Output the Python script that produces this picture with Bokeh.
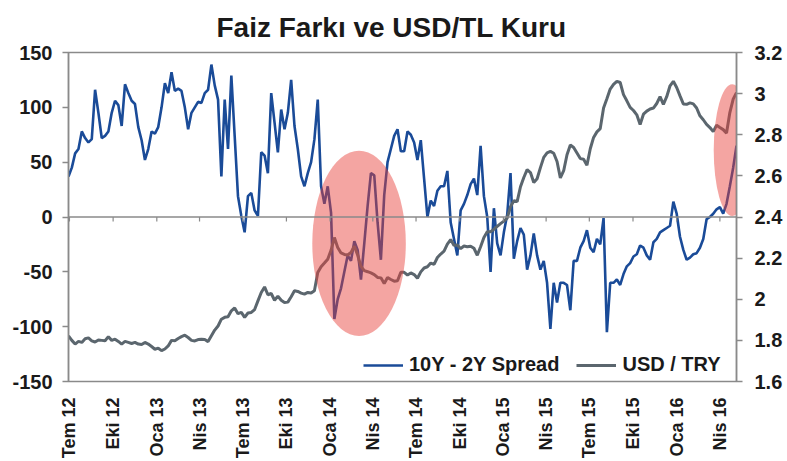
import math
import pandas as pd
from bokeh.plotting import figure
from bokeh.models import (Range1d, LinearAxis, FixedTicker, CustomJSTickFormatter,
                          Span, Legend, LegendItem)
from bokeh.embed import file_html
from bokeh.resources import INLINE

# ---------------- data (weekly) ----------------
start_date = "2012-06-29"

spread = [
    37, 45, 58, 62, 78, 72, 68, 71, 116, 95,
    72, 74, 78, 95, 106, 102, 83, 121, 113, 106,
    103, 82, 70, 52, 62, 78, 76, 82, 100, 122,
    113, 132, 115, 117, 115, 100, 80, 95, 100, 105,
    104,
    113, 116, 139, 120, 107, 37, 107, 62, 129, 74,
    19, 1, -14, 19, 22, 6, 1, 59, 56, 40,
    113, 86, 59, 98, 80, 95, 125, 83, 62, 37,
    28, 40, 50, 71, 107, 28, 12, 28, 4, -93,
    -75, -65, -50, -35, -40, -22, -30, -57, -24, 10,
    40, 38, -5, -39, 20, 50, 62, 74, 80, 60,
    60, 78, 75, 68, 52, 70, 35, 0, 15, 10,
    24, 28, 28, 42, -5, -20, -35, 6, 12, 20,
    30, 35, 20, 65, 19, 0, -50, 8, -24, -35,
    -14, 2, 40, -38, -22, -10, -16, -48, -35, -15,
    -35, -48, -40, -60, -102, -60, -78, -60, -60, -62,
    -85, -40, -40, -28, -22, -12, -28, -32, -20, -25,
    -1, -105, -60, -60, -57, -62, -52, -45, -42, -36,
    -34, -26, -28, -35, -39, -23, -20, -14, -12, -10,
    -8, 14, 3, -18, -30, -39, -37, -34, -33, -28,
    -20, -2, 0, 3, 7, 9, 3, 12, 28, 45,
    65,
]

usd_try = [
    1.822, 1.800, 1.782, 1.795, 1.790, 1.808, 1.812, 1.798, 1.792, 1.802,
    1.800, 1.798, 1.818, 1.800, 1.806, 1.795, 1.782, 1.795, 1.790, 1.785,
    1.790, 1.782, 1.780, 1.790, 1.782, 1.770, 1.757, 1.762, 1.750, 1.758,
    1.773, 1.800, 1.798, 1.809, 1.818, 1.825, 1.814, 1.800, 1.797, 1.804,
    1.805,
    1.804, 1.794, 1.822, 1.850, 1.870, 1.903, 1.912, 1.915, 1.944, 1.958,
    1.930, 1.936, 1.912, 1.933, 1.936, 1.950, 1.992, 2.033, 2.060, 2.022,
    2.028, 1.995, 2.015, 1.995, 1.984, 1.986, 2.012, 2.041, 2.038, 2.030,
    2.025, 2.033, 2.030, 2.041, 2.130, 2.158, 2.176, 2.195, 2.238, 2.300,
    2.252, 2.225, 2.218, 2.215, 2.228, 2.258, 2.215, 2.160, 2.139, 2.134,
    2.128, 2.120, 2.106, 2.104, 2.076, 2.106, 2.096, 2.088, 2.090, 2.131,
    2.131, 2.118, 2.128, 2.120, 2.102, 2.133, 2.152, 2.158, 2.176, 2.170,
    2.203, 2.220, 2.234, 2.268, 2.290, 2.262, 2.264, 2.246, 2.259, 2.255,
    2.258, 2.248, 2.214, 2.255, 2.300, 2.328, 2.328, 2.340, 2.354, 2.368,
    2.380, 2.395, 2.450, 2.479, 2.475, 2.547, 2.592, 2.630, 2.616, 2.568,
    2.586, 2.640, 2.690, 2.712, 2.719, 2.710, 2.670, 2.590, 2.625, 2.703,
    2.750, 2.738, 2.711, 2.684, 2.681, 2.652, 2.732, 2.787, 2.814, 2.830,
    2.930, 2.975, 3.022, 3.045, 3.060, 3.054, 2.995, 2.965, 2.933, 2.918,
    2.897, 2.850, 2.900, 2.915, 2.925, 2.930, 2.952, 2.985, 2.948, 2.985,
    3.038, 3.060, 3.030, 2.989, 2.950, 2.948, 2.955, 2.950, 2.930, 2.892,
    2.873, 2.850, 2.835, 2.815, 2.846, 2.835, 2.825, 2.808, 2.908, 2.973,
    3.005,
]

tick_dates = ["2012-07-01", "2012-10-01", "2013-01-01", "2013-04-01",
              "2013-07-01", "2013-10-01", "2014-01-01", "2014-04-01",
              "2014-07-01", "2014-10-01", "2015-01-01", "2015-04-01",
              "2015-07-01", "2015-10-01", "2016-01-01", "2016-04-01"]
tick_labels = ["Tem 12", "Eki 12", "Oca 13", "Nis 13", "Tem 13", "Eki 13",
               "Oca 14", "Nis 14", "Tem 14", "Eki 14", "Oca 15", "Nis 15",
               "Tem 15", "Eki 15", "Oca 16", "Nis 16"]
left_ticks = [-150, -100, -50, 0, 50, 100, 150]
right_ticks = [1.6, 1.8, 2.0, 2.2, 2.4, 2.6, 2.8, 3.0, 3.2]

# highlighted areas (ellipses)
highlight_centers = ["2014-03-03", "2016-04-27"]
highlight_values = [-24, 61]
highlight_width_days = [197, 78]
highlight_heights = [169, 120]

series_names = ["10Y - 2Y Spread", "USD / TRY"]
title_text = "Faiz Farkı ve USD/TL Kuru"

# ---------------- build ----------------
dates = pd.date_range(start_date, periods=len(spread), freq="7D")
tick_ms = [int(pd.Timestamp(d).value // 10**6) for d in tick_dates]
tick_dt = [pd.Timestamp(d) for d in tick_dates]

FONT = "Liberation Sans"
AXIS_GRAY = "#8a8a8a"
TEXT = "#1a1a1a"

p = figure(width=785, height=461, x_axis_type="datetime",
           x_range=Range1d(dates[0], dates[-1]), y_range=Range1d(-150, 150),
           output_backend="svg", toolbar_location=None,
           min_border_left=68, min_border_right=47, min_border_top=52,
           min_border_bottom=80)
p.extra_y_ranges = {"fx": Range1d(1.6, 3.2)}

p.xgrid.visible = False
p.ygrid.visible = False
p.outline_line_color = AXIS_GRAY
p.outline_line_width = 1.5
p.background_fill_color = "white"
p.border_fill_color = "white"

# title
p.title.text = title_text
p.title.text_font = FONT
p.title.text_font_style = "bold"
p.title.text_font_size = "28px"
p.title.text_color = TEXT
p.title.align = "left"
p.title.offset = 148
p.title.standoff = 19

# lines
r_spread = p.line(dates, spread, line_color="#1a4b98", line_width=2.6)
r_usd = p.line(dates, usd_try, y_range_name="fx", line_color="#5b666e", line_width=3)

# highlight ellipses
p.ellipse(x=[pd.Timestamp(d) for d in highlight_centers], y=highlight_values,
          width=[d * 86400000 for d in highlight_width_days], height=highlight_heights,
          fill_color="#e8403a", fill_alpha=0.47, line_color=None)

# zero line (category axis) and its ticks
p.add_layout(Span(location=0, dimension="width", line_color=AXIS_GRAY, line_width=1.5))
p.segment(x0=tick_dt, y0=[0] * len(tick_dt), x1=tick_dt, y1=[-4] * len(tick_dt),
          line_color=AXIS_GRAY, line_width=1.2)

# left axis
la = p.left[0]
la.ticker = FixedTicker(ticks=left_ticks)
la.formatter = CustomJSTickFormatter(code="return tick.toFixed(0);")

# right axis
ra = LinearAxis(y_range_name="fx", ticker=FixedTicker(ticks=right_ticks),
                formatter=CustomJSTickFormatter(code="return (Math.round(tick*10)/10).toString();"))
p.add_layout(ra, "right")

for ax, so in ((la, 10), (ra, 12)):
    ax.axis_line_color = AXIS_GRAY
    ax.axis_line_width = 1.5
    ax.major_tick_line_color = AXIS_GRAY
    ax.major_tick_line_width = 1.5
    ax.major_tick_out = 6
    ax.major_tick_in = 0
    ax.minor_tick_line_color = None
    ax.major_label_text_font = FONT
    ax.major_label_text_font_style = "bold"
    ax.major_label_text_font_size = "20px"
    ax.major_label_text_color = TEXT
    ax.major_label_standoff = so

# bottom axis
xa = p.below[0]
xa.ticker = FixedTicker(ticks=tick_ms)
xa.formatter = CustomJSTickFormatter(args=dict(qdates=tick_ms, qlabels=tick_labels), code="""
let best = -1, bd = Infinity;
for (let i = 0; i < qdates.length; i++) {
  const d = Math.abs(qdates[i] - tick);
  if (d < bd) { bd = d; best = i; }
}
return bd < 86400000 * 2 ? qlabels[best] : "";
""")
xa.major_label_orientation = math.pi / 2
xa.axis_line_color = None
xa.major_tick_line_color = None
xa.minor_tick_line_color = None
xa.major_label_text_font = FONT
xa.major_label_text_font_style = "bold"
xa.major_label_text_font_size = "18px"
xa.major_label_text_color = TEXT
xa.major_label_standoff = 10

legend = Legend(items=[LegendItem(label=series_names[0], renderers=[r_spread]),
                       LegendItem(label=series_names[1], renderers=[r_usd])],
                orientation="horizontal", location=(295, 5),
                background_fill_alpha=0, border_line_color=None,
                label_text_font=FONT, label_text_font_style="bold",
                label_text_font_size="20px", label_text_color=TEXT,
                glyph_width=40, glyph_height=20, label_height=20,
                label_standoff=6, spacing=17, padding=0, margin=0)
p.add_layout(legend)

open("out.html", "w").write(file_html(p, INLINE))
